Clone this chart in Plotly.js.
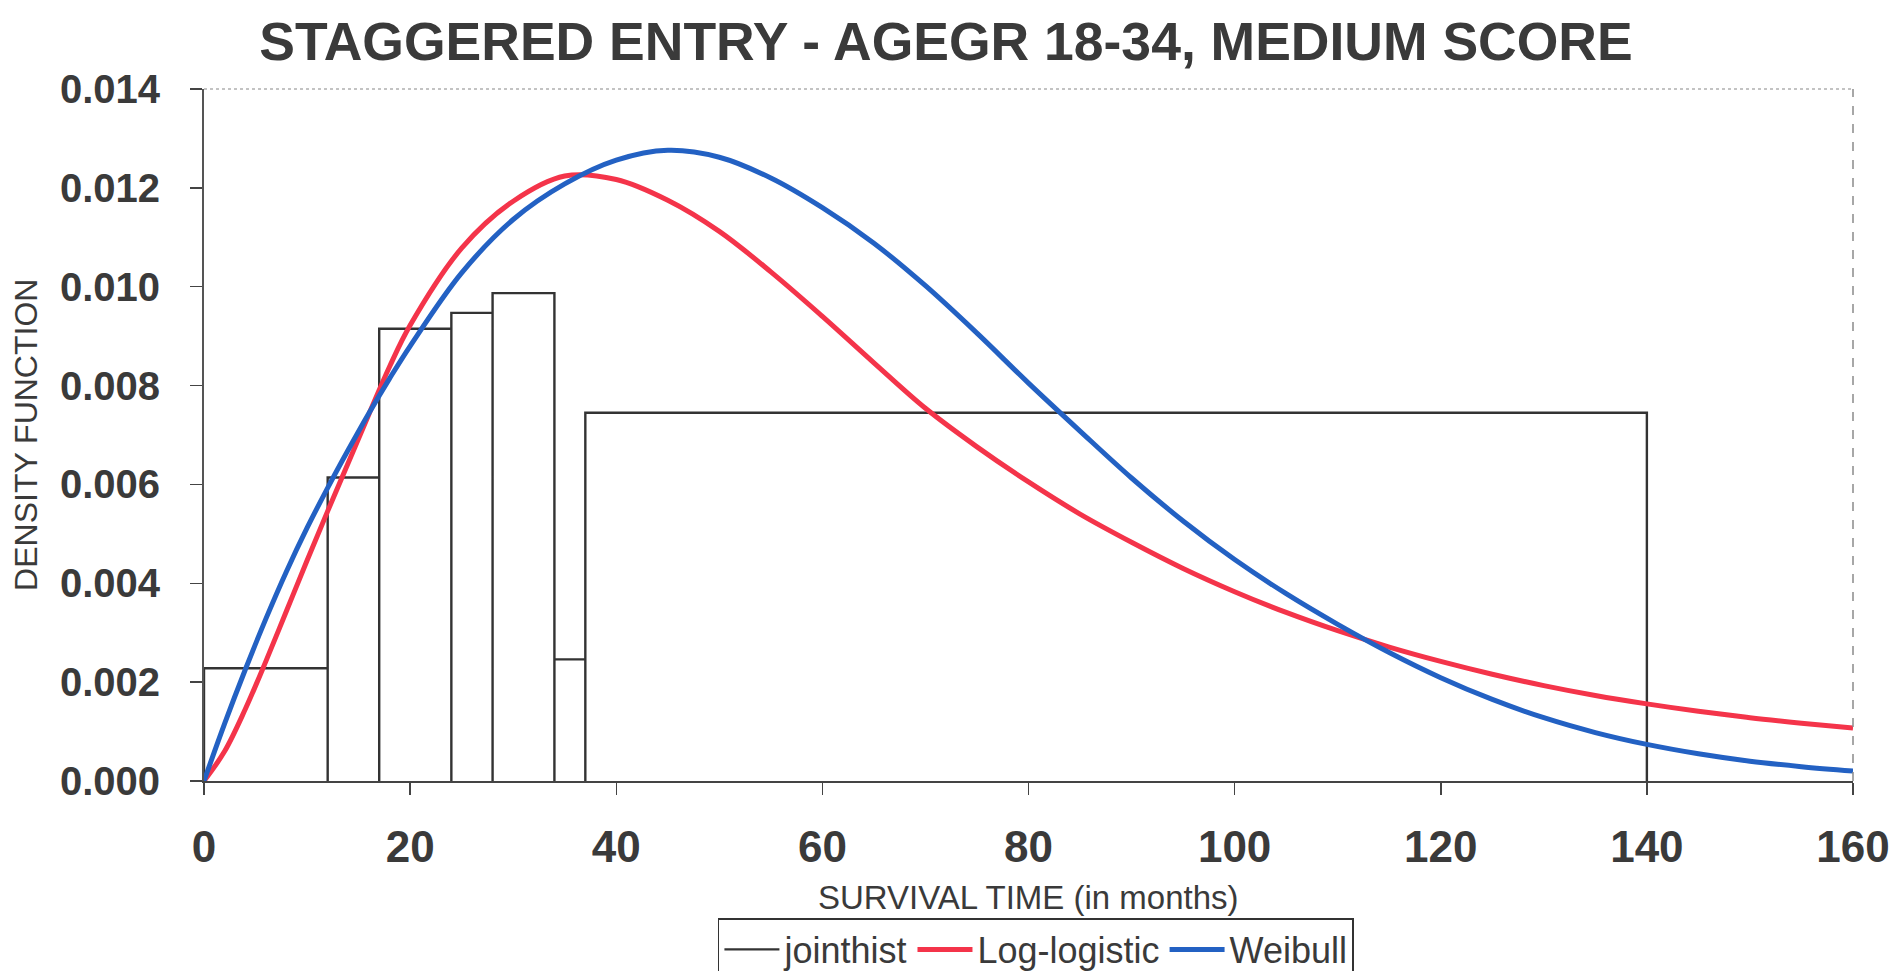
<!DOCTYPE html>
<html>
<head>
<meta charset="utf-8">
<script src="https://cdn.plot.ly/plotly-3.0.1.min.js"></script>
<style>
  html, body { margin: 0; padding: 0; background: #ffffff; }
  #chart { width: 1892px; height: 971px; }
</style>
</head>
<body>
<div id="chart"></div>
<script>
// ---- data ----
const chartTitle = "STAGGERED ENTRY - AGEGR 18-34, MEDIUM SCORE";
const xTitle = "SURVIVAL TIME (in months)";
const yTitle = "DENSITY FUNCTION";

// histogram (jointhist): bin edges in months and density heights
const histEdges   = [0, 12, 17, 24, 28, 34, 37, 140];
const histDensity = [0.00228, 0.00614, 0.00915, 0.00947, 0.00987, 0.00246, 0.00745];

// fitted densities read at these survival times
const curveTime = [0, 2, 4, 6, 8, 10, 12, 14, 16, 18, 20, 25, 30, 35, 40, 45, 50, 55, 60, 65,
                   70, 75, 80, 85, 90, 95, 100, 105, 110, 115, 120, 125, 130, 135, 140, 145, 150, 155, 160];
const logLogistic = [0, 0.00060, 0.00145, 0.00242, 0.00344, 0.00446, 0.00546, 0.00644, 0.00742, 0.00838,
                     0.00922, 0.01078, 0.01173, 0.01224, 0.01217, 0.01175, 0.01112, 0.01030, 0.00940, 0.00846,
                     0.00754, 0.00676, 0.00605, 0.00540, 0.00483, 0.00430, 0.00383, 0.00341, 0.00304, 0.00271,
                     0.00242, 0.00216, 0.00193, 0.00173, 0.00156, 0.00141, 0.00128, 0.00117, 0.00107];
const weibull = [0, 0.00116, 0.00225, 0.00328, 0.00424, 0.00512, 0.00593, 0.00670, 0.00744, 0.00814,
                 0.00880, 0.01028, 0.01136, 0.01208, 0.01256, 0.01276, 0.01262, 0.01220, 0.01160, 0.01088,
                 0.01002, 0.00906, 0.00805, 0.00708, 0.00613, 0.00526, 0.00448, 0.00379, 0.00317, 0.00260,
                 0.00209, 0.00165, 0.00128, 0.00098, 0.00074, 0.00055, 0.00040, 0.00029, 0.00020];

const xTickVals = [0, 20, 40, 60, 80, 100, 120, 140, 160];
const yTickVals = [0, 0.002, 0.004, 0.006, 0.008, 0.010, 0.012, 0.014];

// ---- build histogram outline from bins ----
const hx = [histEdges[0]], hy = [0];
for (let i = 0; i < histDensity.length; i++) {
  const l = histEdges[i], r = histEdges[i + 1], h = histDensity[i];
  hx.push(l, r, r); hy.push(h, h, 0);
}

const txt = '#3a3a3a';
const fam = '"Liberation Sans", Arial, Helvetica, sans-serif';

const traces = [
  { x: hx, y: hy, type: 'scatter', mode: 'lines', name: 'jointhist',
    line: { color: '#333333', width: 2.4 } },
  { x: curveTime, y: logLogistic, type: 'scatter', mode: 'lines', name: 'Log-logistic',
    line: { color: '#F4344A', width: 5, shape: 'spline', smoothing: 1 } },
  { x: curveTime, y: weibull, type: 'scatter', mode: 'lines', name: 'Weibull',
    line: { color: '#2361C3', width: 5, shape: 'spline', smoothing: 1 } }
];

const layout = {
  width: 1892, height: 971,
  paper_bgcolor: '#ffffff', plot_bgcolor: '#ffffff',
  margin: { l: 204, r: 39, t: 89, b: 190, autoexpand: false },
  font: { family: fam, color: txt },
  title: { text: chartTitle, x: 0.5, xref: 'container', xanchor: 'center',
           y: 0.958, yref: 'container', yanchor: 'middle',
           font: { family: fam, size: 53.5, color: txt, weight: 'bold' } },
  xaxis: {
    range: [0, 160], tickvals: xTickVals, ticktext: xTickVals.map(String),
    showgrid: false, zeroline: false, showline: true, linecolor: '#444444', linewidth: 2,
    ticks: 'outside', ticklen: 12, tickwidth: 1.5, tickcolor: '#444444',
    ticklabelstandoff: 14,
    tickfont: { family: fam, size: 44, color: txt, weight: 'bold' }
  },
  yaxis: {
    range: [0, 0.014], tickvals: yTickVals, ticktext: yTickVals.map(v => v.toFixed(3)),
    showgrid: false, zeroline: false, showline: true, linecolor: '#555555', linewidth: 2,
    ticks: 'outside', ticklen: 12, tickwidth: 1.5, tickcolor: '#444444',
    ticklabelstandoff: 22,
    tickfont: { family: fam, size: 40, color: txt, weight: 'bold' }
  },
  annotations: [
    { text: xTitle, xref: 'paper', yref: 'paper', x: 0.5, y: -0.169,
      xanchor: 'center', yanchor: 'middle', showarrow: false,
      font: { family: fam, size: 33, color: txt } },
    { text: yTitle, xref: 'paper', yref: 'paper', x: -0.108, y: 0.5, textangle: -90,
      xanchor: 'center', yanchor: 'middle', showarrow: false,
      font: { family: fam, size: 32, color: txt } }
  ],
  showlegend: true,
  legend: {
    orientation: 'h', x: 0.5045, xanchor: 'center', y: -0.198, yanchor: 'top',
    bgcolor: '#ffffff', bordercolor: '#333333', borderwidth: 1.5,
    font: { family: fam, size: 36, color: txt },
    itemwidth: 55, tracegroupgap: 0
  },
  shapes: [
    { type: 'line', xref: 'paper', yref: 'paper', x0: 0, x1: 1, y0: 1, y1: 1,
      line: { color: '#b0b0b0', width: 1.5, dash: 'dot' } },
    { type: 'line', xref: 'paper', yref: 'paper', x0: 1, x1: 1, y0: 0, y1: 1,
      line: { color: '#8a8a8a', width: 1.5, dash: 'dash' } }
  ]
};

Plotly.newPlot('chart', traces, layout, { staticPlot: true, displayModeBar: false });
</script>
</body>
</html>
